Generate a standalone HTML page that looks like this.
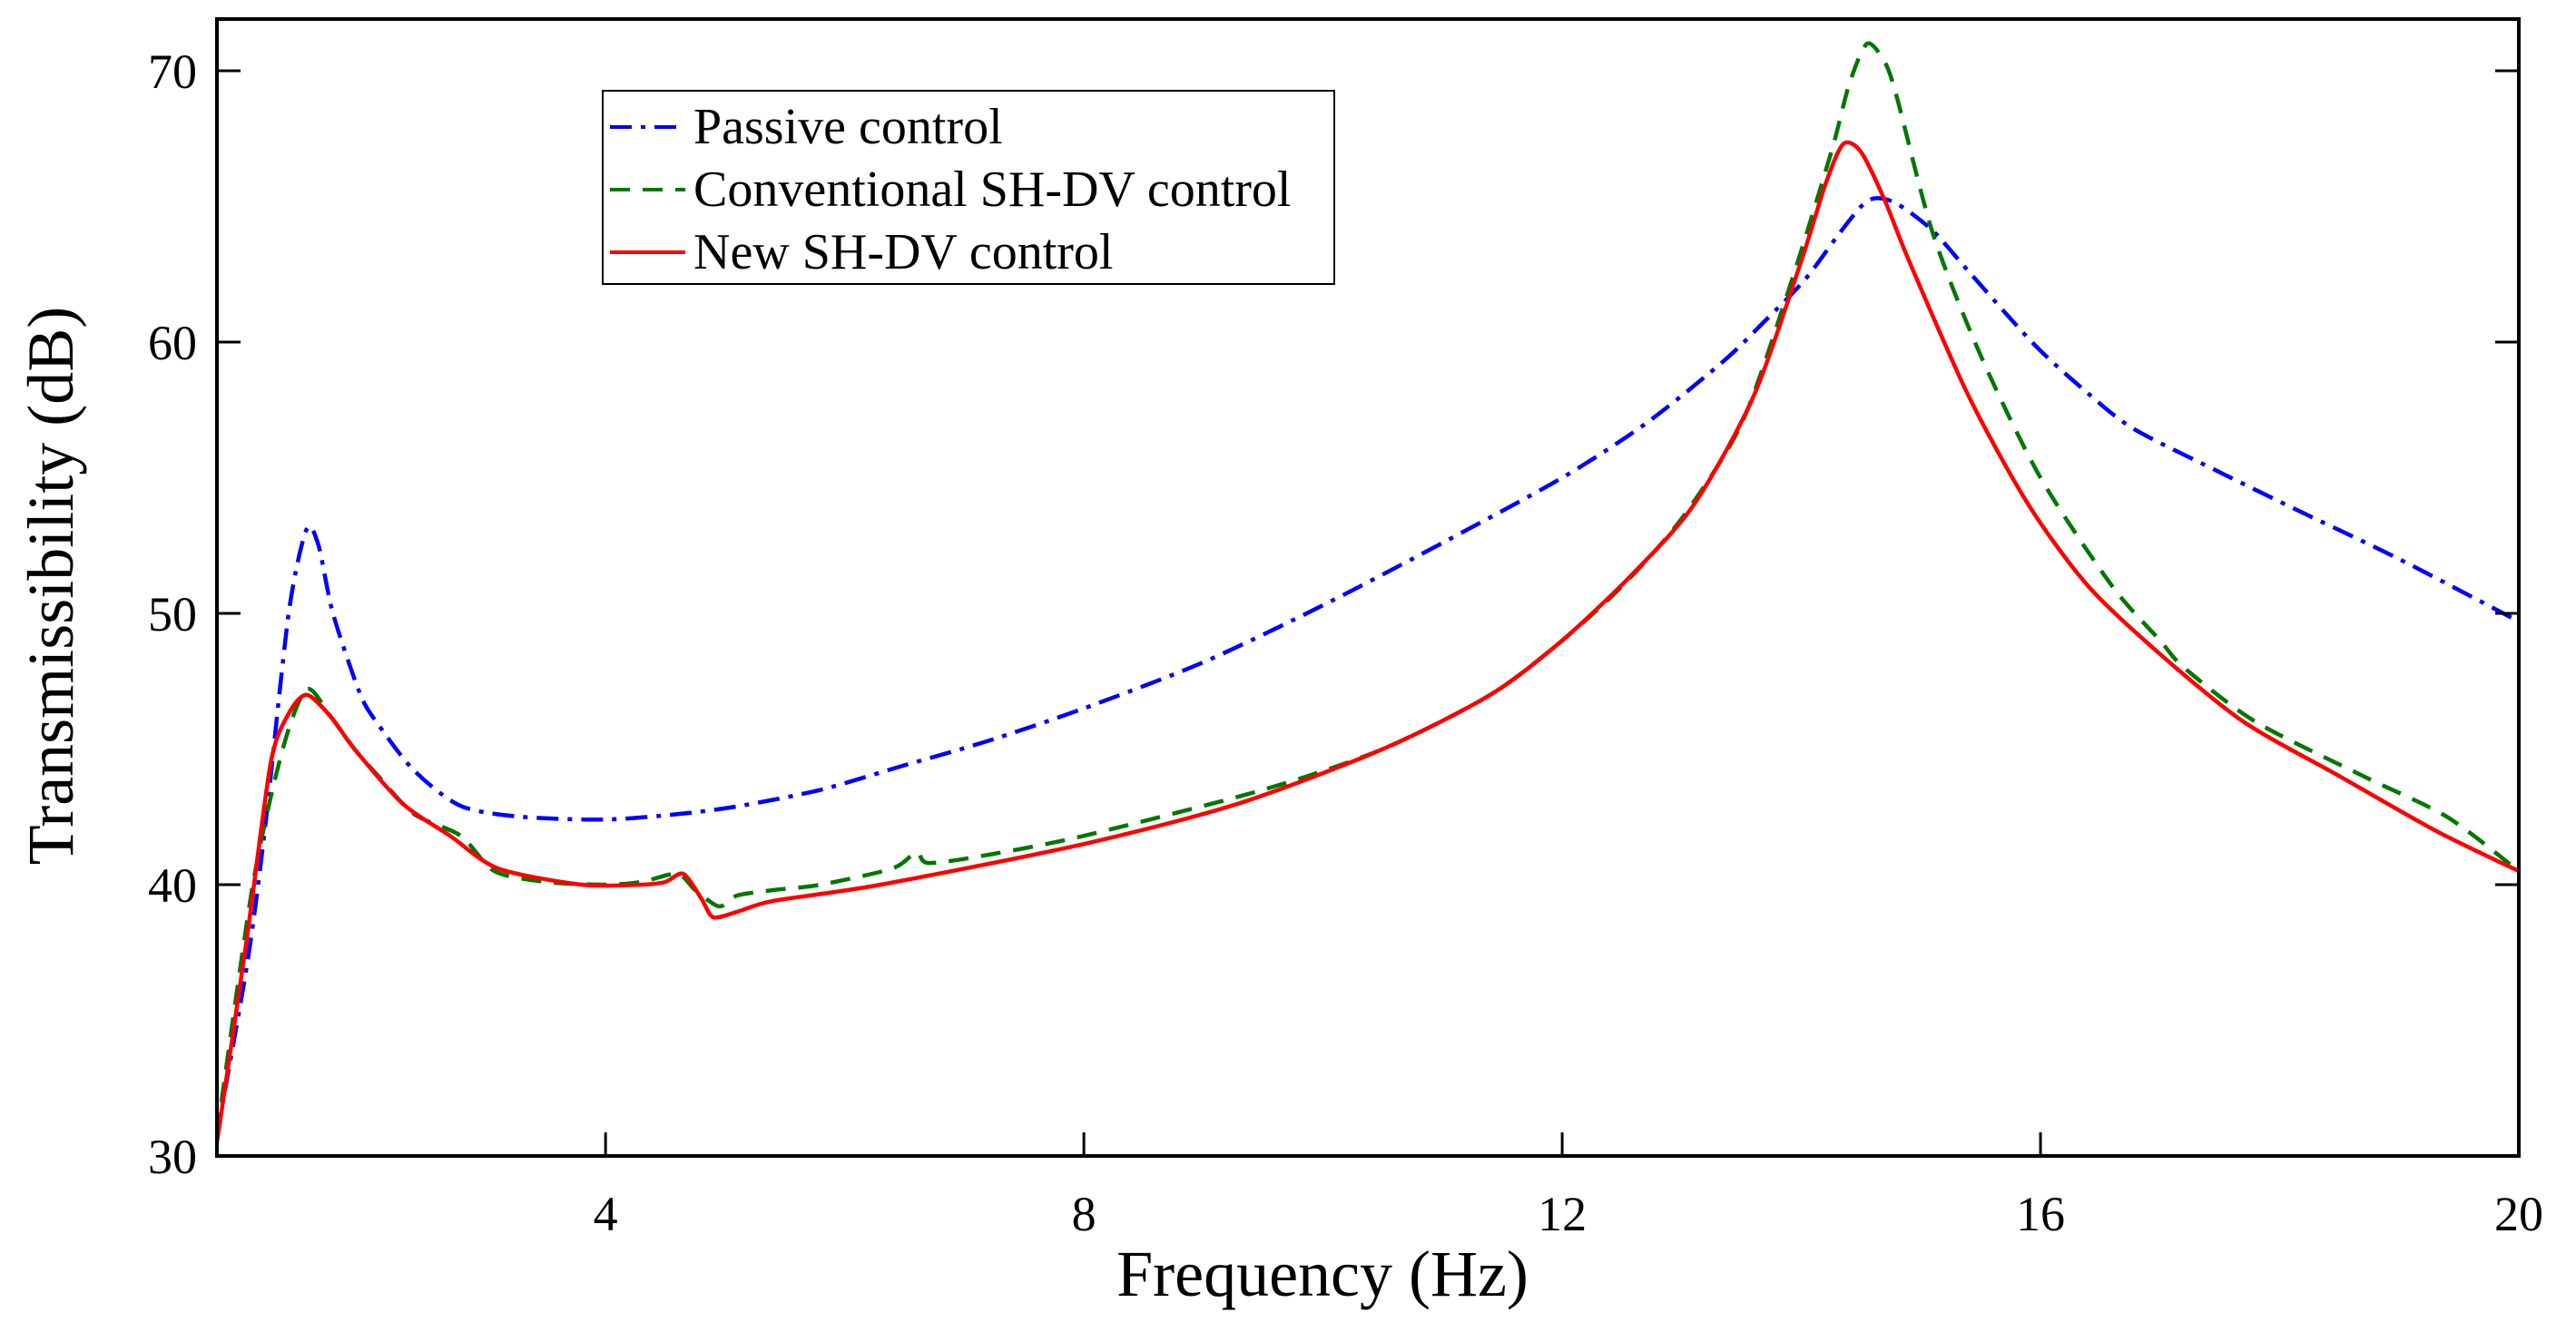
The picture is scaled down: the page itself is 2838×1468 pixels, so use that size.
<!DOCTYPE html>
<html><head><meta charset="utf-8"><style>
html,body{margin:0;padding:0;background:#fff;}
svg{display:block;font-family:"Liberation Serif",serif;}
</style></head><body>
<svg id="chart" width="2838" height="1468" viewBox="0 0 2838 1468"></svg>
<script>
const xTicks=[4,8,12,16,20];
const yTicks=[30,40,50,60,70];
const passiveX=[0.75,1.0,1.15,1.35,1.5,1.6,1.72,1.95,2.1,2.4,2.79,3.3,4,4.6,5.12,5.8,6.5,7.2,8,9,10,11,12,12.7,13.35,13.7,14.03,14.3,14.5,14.62,14.8,15.1,15.4,15.95,16.4,16.78,17.5,18.15,19,20];
const passiveY=[30.8,37,42,50,53.1,52.5,50,47,45.9,44.2,42.9,42.5,42.4,42.6,42.9,43.5,44.4,45.3,46.5,48.2,50.3,52.6,55.0,57.0,59.3,60.8,62.3,63.9,65.0,65.3,65.1,64.1,62.6,59.9,58.1,56.8,55.2,53.8,52.0,49.7];
const convX=[0.75,1.05,1.3,1.5,1.7,1.9,2.1,2.4,2.79,3.07,3.5,4,4.3,4.6,4.75,4.95,5.1,5.4,5.8,6.4,6.6,6.7,7.2,8,9.5,10.5,11.4,12,12.5,13,13.5,13.9,14.25,14.4,14.55,14.7,14.8,15.1,15.5,16,16.6,17.0,17.2,17.8,18.7,19.4,20];
const convY=[30.8,40,45,47.2,46.2,45.0,44.0,42.6,41.8,40.5,40.1,40.0,40.1,40.4,39.8,39.2,39.6,39.8,40.0,40.6,41.2,40.8,41.1,41.8,43.5,45,47,49,51,53.5,57,62,67,69.5,71,70.3,69,64,59.5,55,51,49.0,48,46,44,42.5,40.5];
const newX=[0.75,1.0,1.2,1.35,1.5,1.7,1.9,2.3,2.7,3.1,3.8,4.3,4.5,4.65,4.8,4.9,5.1,5.4,6.3,8,9.3,10.5,11.4,12,12.6,13.1,13.6,14.0,14.2,14.35,14.5,14.7,14.9,15.4,15.9,16.4,17,17.7,18.5,19.3,20];
const newY=[30.5,38,44.5,46.3,47.0,46.2,45,43,41.8,40.6,40.0,40.0,40.1,40.4,39.5,38.8,39.0,39.4,40.0,41.5,43.0,45,47,49,51.5,54,58,63,65.8,67.3,67.0,65.2,63,58,54,51,48.5,46,44,42,40.5];

const L=239,R=2775,T=21,B=1274,XMIN=0.75,XMAX=20,YMIN=30,Y70=78;
const yPer=(B-Y70)/40;
function xs(v){return L+(v-XMIN)/(XMAX-XMIN)*(R-L);}
function ys(v){return B-(v-YMIN)*yPer;}
const NS="http://www.w3.org/2000/svg";
const svg=document.getElementById('chart');
function mk(tag,attrs,parent){const e=document.createElementNS(NS,tag);for(const k in attrs)e.setAttribute(k,attrs[k]);(parent||svg).appendChild(e);return e;}

const defs=mk('defs',{});
const cp=mk('clipPath',{id:'pc'},defs);
mk('rect',{x:L,y:T,width:R-L,height:B-T},cp);

function series(xa,ya,color,dash,name){
  const P=xa.map((v,i)=>[xs(v),ys(ya[i])]);
  let d='M'+P[0][0].toFixed(1)+','+P[0][1].toFixed(1);
  for(let i=0;i<P.length-1;i++){
    const p0=P[Math.max(i-1,0)],p1=P[i],p2=P[i+1],p3=P[Math.min(i+2,P.length-1)];
    const t=1/6*0.8;
    const c1=[p1[0]+(p2[0]-p0[0])*t,p1[1]+(p2[1]-p0[1])*t];
    const c2=[p2[0]-(p3[0]-p1[0])*t,p2[1]-(p3[1]-p1[1])*t];
    d+='C'+c1[0].toFixed(1)+','+c1[1].toFixed(1)+' '+c2[0].toFixed(1)+','+c2[1].toFixed(1)+' '+p2[0].toFixed(1)+','+p2[1].toFixed(1);
  }
  const p=mk('path',{d:d,fill:'none',stroke:color,'stroke-width':4.5,'stroke-dasharray':dash,'stroke-linejoin':'round','clip-path':'url(#pc)'});
  
  
}
series(passiveX,passiveY,'#0000ff','24,10,5,10','passive-control-line');
series(convX,convY,'#007700','22,14','conventional-sh-dv-line');
series(newX,newY,'#ff0000','none','new-sh-dv-line');

const box=mk('rect',{x:L,y:T,width:R-L,height:B-T,fill:'none',stroke:'#000','stroke-width':4});



xTicks.forEach(v=>{
  const x=xs(v);
  const t=mk('line',{x1:x,y1:B,x2:x,y2:B-26,stroke:'#000','stroke-width':3});
  
  
  const tx=mk('text',{x:x,y:B+82,'font-size':54,'text-anchor':'middle',fill:'#000'});
  tx.textContent=v;
  
  
});
yTicks.forEach(v=>{
  const y=ys(v);
  const t=mk('line',{x1:L,y1:y,x2:L+26,y2:y,stroke:'#000','stroke-width':3});
  
  
  mk('line',{x1:R,y1:y,x2:R-26,y2:y,stroke:'#000','stroke-width':3});
  const tx=mk('text',{x:L-22,y:y+19,'font-size':54,'text-anchor':'end',fill:'#000'});
  tx.textContent=v;
  
  
});
const xt=mk('text',{x:(L+R)/2-50,y:1428,'font-size':72,'text-anchor':'middle',fill:'#000'});
xt.textContent='Frequency (Hz)';


const yt=mk('text',{x:0,y:0,'font-size':72,'text-anchor':'middle',fill:'#000',transform:'translate(80,'+((T+B)/2-2)+') rotate(-90)'});
yt.textContent='Transmissibility (dB)';



const lg=mk('g',{});


mk('rect',{x:664,y:100,width:806,height:213,fill:'#fff',stroke:'#000','stroke-width':2},lg);
const entries=[['Passive control','#0000ff','24,10,5,10'],['Conventional SH-DV control','#007700','22,14'],['New SH-DV control','#ff0000','none']];
entries.forEach((e,i)=>{
  const y=140+i*69;
  const g=mk('g',{},lg);
  
  
  mk('line',{x1:672,y1:y,x2:755,y2:y,stroke:e[1],'stroke-width':4,'stroke-dasharray':e[2]},g);
  const t=mk('text',{x:764,y:y+18,'font-size':56,fill:'#000'},g);
  t.textContent=e[0];
});
</script>
</body></html>
